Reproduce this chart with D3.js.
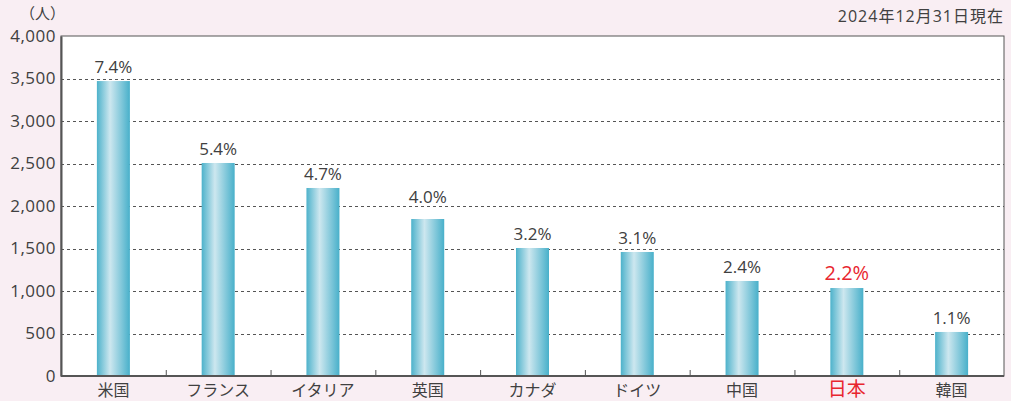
<!DOCTYPE html>
<html>
<head>
<meta charset="utf-8">
<script src="https://cdn.jsdelivr.net/npm/d3@7"></script>
<style>
  body { margin: 0; background: #f9eef3; }
  svg text { font-family: "Open Sans", "Noto Sans CJK JP", sans-serif; font-weight: 400; fill: #404040; }
</style>
</head>
<body>
<div id="chart"></div>
<script>
// Data
const countries = ["米国", "フランス", "イタリア", "英国", "カナダ", "ドイツ", "中国", "日本", "韓国"];
const counts = [3470, 2506, 2212, 1847, 1506, 1459, 1118, 1035, 518];
const shares = ["7.4%", "5.4%", "4.7%", "4.0%", "3.2%", "3.1%", "2.4%", "2.2%", "1.1%"];
const yTicks = [0, 500, 1000, 1500, 2000, 2500, 3000, 3500, 4000];

let width = 1011, height = 401;
let margin = { top: 36, bottom: 25, left: 61, right: 7 };

let svg = d3.select("#chart")
    .append("svg")
    .attr("width", width)
    .attr("height", height)
    .style("background", "#f9eef3");

// bar gradient
const grad = svg.append("defs").append("linearGradient")
    .attr("id", "barGrad")
    .attr("x1", "0%").attr("x2", "100%").attr("y1", "0%").attr("y2", "0%");
grad.append("stop").attr("offset", "0%").attr("stop-color", "#4db2cb");
grad.append("stop").attr("offset", "40%").attr("stop-color", "#cde7ef");
grad.append("stop").attr("offset", "100%").attr("stop-color", "#48b0ca");

let xScale = d3.scaleBand()
    .domain(countries)
    .range([margin.left, width - margin.right]);

let yScale = d3.scaleLinear()
    .domain([0, 4000])
    .range([height - margin.bottom, margin.top]);

// plot background
svg.append("rect")
    .attr("x", margin.left)
    .attr("y", margin.top)
    .attr("width", width - margin.right - margin.left)
    .attr("height", height - margin.bottom - margin.top)
    .attr("fill", "#fff")
    .attr("stroke", "#555")
    .attr("stroke-width", 1);

// gridlines
svg.selectAll(".grid")
    .data(yTicks.filter(d => d > 0 && d < 4000))
    .enter().append("line")
    .attr("x1", margin.left)
    .attr("x2", width - margin.right)
    .attr("y1", d => Math.round(yScale(d)) + 0.5)
    .attr("y2", d => Math.round(yScale(d)) + 0.5)
    .attr("stroke", "#555")
    .attr("stroke-dasharray", "3,3");

// bars
svg.selectAll(".bar")
    .data(countries)
    .enter().append("rect")
    .attr("x", d => xScale(d) + xScale.bandwidth() / 2 - 16.5)
    .attr("y", (d, i) => yScale(counts[i]))
    .attr("width", 33)
    .attr("height", (d, i) => yScale(0) - yScale(counts[i]))
    .attr("fill", "url(#barGrad)");

// share labels: sit above the bar, pushed up if a gridline would cut the text
function labelY(v) {
    let y = yScale(v) - 8;
    yTicks.forEach(t => {
        const gy = yScale(t);
        if (gy < y && gy > y - 14) y = gy - 3;
    });
    return y;
}
svg.selectAll(".share")
    .data(countries)
    .enter().append("text")
    .attr("x", d => xScale(d) + xScale.bandwidth() / 2)
    .attr("y", (d, i) => labelY(counts[i]))
    .attr("text-anchor", "middle")
    .style("font-size", d => d === "日本" ? "20px" : "17px")
    .style("fill", d => d === "日本" ? "#e8262f" : "#404040")
    .text((d, i) => shares[i]);

// y axis
let yAxis = svg.append("g")
    .attr("transform", `translate(${margin.left},0)`)
    .call(d3.axisLeft(yScale).tickValues(yTicks).tickFormat(d3.format(",")).tickSize(0).tickPadding(5));
yAxis.select(".domain").attr("stroke", "#555").attr("stroke-width", 2);
yAxis.attr("font-family", null);
yAxis.selectAll("text").style("font-size", "17px").style("fill", "#404040").style("letter-spacing", "0.5px");

// x axis with ticks between categories
let xAxis = svg.append("g")
    .attr("transform", `translate(0,${height - margin.bottom})`);
xAxis.append("line")
    .attr("x1", margin.left).attr("x2", width - margin.right)
    .attr("stroke", "#555").attr("stroke-width", 2);
xAxis.selectAll(".sep")
    .data(countries.slice(1))
    .enter().append("line")
    .attr("x1", d => xScale(d) + 0.5)
    .attr("x2", d => xScale(d) + 0.5)
    .attr("y1", 0).attr("y2", -6)
    .attr("stroke", "#555");
xAxis.selectAll(".lab")
    .data(countries)
    .enter().append("text")
    .attr("x", d => xScale(d) + xScale.bandwidth() / 2)
    .attr("y", 20)
    .attr("text-anchor", "middle")
    .style("font-size", d => d === "日本" ? "19px" : "16px")
    .style("fill", d => d === "日本" ? "#e8262f" : "#404040")
    .text(d => d);

// unit and date
svg.append("text")
    .attr("x", 20).attr("y", 19)
    .style("font-size", "15px")
    .text("（人）");
svg.append("text")
    .attr("x", 1004).attr("y", 22)
    .attr("text-anchor", "end")
    .style("font-size", "16px")
    .style("letter-spacing", "1px")
    .text("2024年12月31日現在");
</script>
</body>
</html>
